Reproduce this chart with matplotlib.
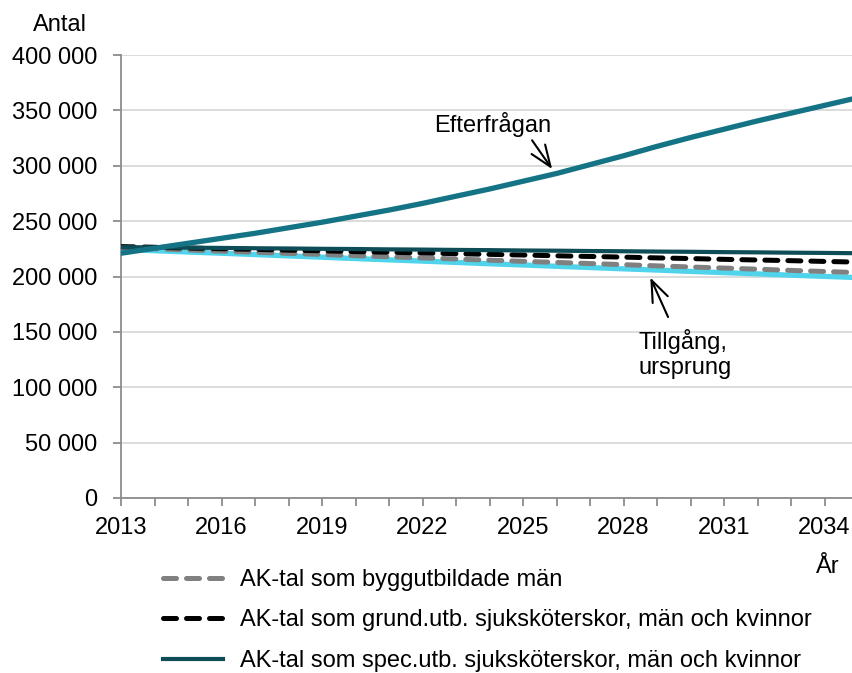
"""
Efterfrågan och tillgång, antal per år 2013-2035
"""
import matplotlib
matplotlib.use("Agg")
from matplotlib import pyplot as plt
from matplotlib.ticker import FixedLocator, FuncFormatter

FS = 17
plt.rcParams["font.family"] = ["Liberation Sans", "DejaVu Sans"]
plt.rcParams["font.size"] = FS

YEARS = list(range(2013, 2036))

EFTERFRAGAN = [221000, 225500, 230000, 234500, 239000, 244000, 249000, 254500,
               260000, 266000, 272500, 279000, 286000, 293000, 301000, 309000,
               317500, 325500, 333000, 340500, 347500, 354500, 361500]

TILLGANG = [224500, 223300, 222100, 221000, 219800, 218600, 217400, 216200,
            215000, 213900, 212700, 211500, 210400, 209200, 208100, 206900,
            205800, 204600, 203500, 202400, 201200, 200100, 199000]

BYGG_MAN = [226000, 225000, 224000, 222900, 221900, 220900, 219900, 218800,
            217800, 216800, 215800, 214700, 213700, 212700, 211700, 210700,
            209600, 208600, 207600, 206600, 205500, 204500, 203500]

GRUND_SSK = [227000, 226400, 225700, 225100, 224500, 223800, 223200, 222500,
             221900, 221300, 220600, 220000, 219400, 218700, 218100, 217500,
             216800, 216200, 215500, 214900, 214300, 213600, 213000]

SPEC_SSK = [226500, 226300, 226000, 225800, 225500, 225300, 225000, 224800,
            224500, 224300, 224000, 223800, 223500, 223300, 223000, 222800,
            222500, 222300, 222000, 221800, 221500, 221300, 221000]

LEGEND_LABELS = [
    "AK-tal som byggutbildade män",
    "AK-tal som grund.utb. sjuksköterskor, män och kvinnor",
    "AK-tal som spec.utb. sjuksköterskor, män och kvinnor",
]

Y_TICKS = [0, 50000, 100000, 150000, 200000, 250000, 300000, 350000, 400000]
X_LABEL_YEARS = [2013, 2016, 2019, 2022, 2025, 2028, 2031, 2034]

W, H = 853, 673
fig = plt.figure(figsize=(W / 100, H / 100), dpi=100)
ax = fig.add_axes([121 / W, 1 - 498 / H, 1 - 121 / W, (498 - 55) / H])

# lines, bottom first
ax.plot(YEARS, TILLGANG, color="#4fd4ec", lw=3.8, solid_capstyle="butt", zorder=3)
gray, = ax.plot(YEARS, BYGG_MAN, color="#808080", lw=3.6, dashes=(2.6, 2.0),
                dash_capstyle="round", zorder=4)
black, = ax.plot(YEARS, GRUND_SSK, color="black", lw=3.6, dashes=(2.6, 2.0),
                 dash_capstyle="round", zorder=5)
spec, = ax.plot(YEARS, SPEC_SSK, color="#0e4d57", lw=3.0, zorder=6)
ax.plot(YEARS, EFTERFRAGAN, color="#147384", lw=3.8, zorder=7)

ax.set_xlim(2013, 2034.85)
ax.set_ylim(0, 400000)

# axes look
for side in ("top", "right"):
    ax.spines[side].set_visible(False)
for side in ("left", "bottom"):
    ax.spines[side].set_color("#8c8c8c")
    ax.spines[side].set_linewidth(1.3)
ax.yaxis.set_major_locator(FixedLocator(Y_TICKS))
ax.yaxis.set_major_formatter(FuncFormatter(lambda v, p: f"{int(v):,}".replace(",", " ")))
ax.xaxis.set_major_locator(FixedLocator(YEARS))
ax.xaxis.set_major_formatter(
    FuncFormatter(lambda v, p: str(int(round(v))) if int(round(v)) in X_LABEL_YEARS else ""))
ax.tick_params(axis="both", direction="out", length=6, width=1.3, color="#8c8c8c",
               labelsize=FS)
ax.tick_params(axis="y", pad=11)
ax.tick_params(axis="x", pad=8)
ax.grid(axis="y", color="#d9d9d9", lw=1.3, zorder=0)
ax.set_axisbelow(True)

fig.text(60 / W, 1 - 25 / H, "Antal", ha="center", va="center", fontsize=FS)
fig.text(828 / W, 1 - 567 / H, "År", ha="center", va="center", fontsize=FS)

# annotations
arrow = dict(arrowstyle="->,head_length=0.9,head_width=0.35", color="black", lw=1.5,
             shrinkA=0, shrinkB=0)
ax.text(2024.1, 336800, "Efterfrågan", ha="center", va="center", fontsize=FS)
ax.annotate("", xy=(2025.87, 297000), xytext=(2025.27, 323000), arrowprops=arrow)
ax.text(2028.46, 130000, "Tillgång,\nursprung", ha="left", va="center",
        fontsize=FS, linespacing=1.2)
ax.annotate("", xy=(2028.8, 199000), xytext=(2029.33, 163400), arrowprops=arrow)

fig.legend([gray, black, spec], LEGEND_LABELS, loc="upper left",
           bbox_to_anchor=(163 / W, 1 - 569 / H), frameon=False,
           handlelength=2.55, handletextpad=0.7, labelspacing=0.78,
           fontsize=FS, borderaxespad=0, borderpad=0)

fig.savefig("out.png", dpi=100)
